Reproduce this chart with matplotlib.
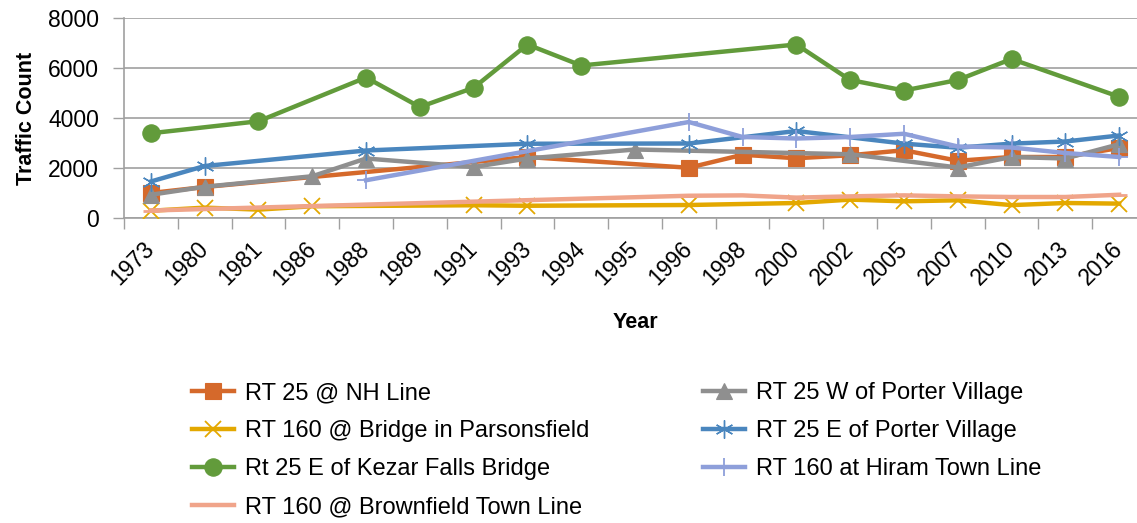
import numpy as np
import matplotlib
matplotlib.use("Agg")
import matplotlib.pyplot as plt

years = ["1973", "1980", "1981", "1986", "1988", "1989", "1991", "1993", "1994", "1995",
         "1996", "1998", "2000", "2002", "2005", "2007", "2010", "2013", "2016"]
N = None
nh_line =      [1000, 1240, N, N, N, N, N, 2440, N, N, 2010, 2530, 2390, 2510, 2710, 2290, 2440, 2440, 2800]
w_porter =     [930, 1250, N, 1670, 2380, N, 2040, 2380, N, 2740, N, N, N, 2550, N, 2020, 2440, 2380, 2950]
parsonsfield = [290, 415, 335, 470, N, N, 510, 490, N, N, 520, N, 600, 735, 668, 708, 515, 600, 575]
e_porter =     [1460, 2080, N, N, 2700, N, N, 2970, N, N, 2980, N, 3480, N, 2975, 2810, 2975, 3060, 3300]
kezar =        [3390, N, 3870, N, 5620, 4440, 5210, 6940, 6100, N, N, N, 6940, 5520, 5100, 5520, 6360, N, 4850]
hiram =        [N, N, N, N, 1510, N, N, N, N, N, 3840, 3240, 3180, 3240, 3370, 2860, 2820, 2600, 2440]
brownfield =   [300, N, N, N, N, N, N, N, N, N, 890, 905, 815, 865, 905, 865, 840, 840, 930]

series = [
    ("RT 25 @ NH Line", nh_line, "#D5692B", "s", 11, 1.0),
    ("RT 160 @ Bridge in Parsonsfield", parsonsfield, "#E3A800", "x", 12, 1.3),
    ("Rt 25 E of Kezar Falls Bridge", kezar, "#629B3B", "o", 12.5, 1.0),
    ("RT 160 @ Brownfield Town Line", brownfield, "#F0A48A", "_", 11, 2.0),
    ("RT 25 W of Porter Village", w_porter, "#8F8F8F", "^", 12, 1.0),
    ("RT 25 E of Porter Village", e_porter, "#4A86BE", "*", 13, 1.0),
    ("RT 160 at Hiram Town Line", hiram, "#8E9FDA", "+", 13, 1.3),
]

fig = plt.figure(figsize=(11.37, 5.23), dpi=100)
ax = fig.add_axes([124 / 1137, 1 - 218 / 523, (1146 - 124) / 1137, 200 / 523])

x_all = np.arange(len(years))
handles = []
for label, vals, color, mk, ms, mew in series:
    xs = [i for i, v in enumerate(vals) if v is not None]
    ys = [v for v in vals if v is not None]
    marker = (6, 2, 0) if mk == "*" else mk
    filled = mk in ("s", "o", "^")
    (h,) = ax.plot(xs, ys, color=color, lw=3.2, marker=marker, ms=ms,
                   markeredgewidth=mew if not filled else 0.8,
                   markerfacecolor=color, markeredgecolor=color,
                   solid_joinstyle="round", label=label, zorder=3)
    handles.append(h)

ax.set_xlim(-0.5, len(years) - 0.5)
ax.set_ylim(0, 8000)
ax.set_yticks([0, 2000, 4000, 6000, 8000])
ax.set_xticks(x_all)
ax.set_xticklabels(years, rotation=45, ha="right", va="center", rotation_mode="anchor",
                   fontsize=16.5, family="Liberation Sans")
ax.set_xticks(np.arange(-0.5, len(years), 1), minor=True)
ax.tick_params(axis="x", which="major", length=0, pad=20)
ax.tick_params(axis="x", which="minor", length=8, color="#A0A0A0", width=1)
ax.tick_params(axis="y", length=8, color="#A0A0A0", width=1, labelsize=16.5, pad=10)
for lbl in ax.get_yticklabels():
    lbl.set_family("Liberation Sans")
ax.grid(axis="y", color="#A0A0A0", lw=1.2, zorder=0)
ax.set_axisbelow(True)
for s in ["top", "right"]:
    ax.spines[s].set_visible(False)
for s in ["left", "bottom"]:
    ax.spines[s].set_color("#A0A0A0")
    ax.spines[s].set_linewidth(1.2)

fig.text(635 / 1137, 1 - 323 / 523, "Year", ha="center", va="center",
         fontsize=15.5, fontweight="bold", family="Liberation Sans")
fig.text(27 / 1137, 1 - 118 / 523, "Traffic Count", ha="center", va="center",
         rotation=90, fontsize=15.5, fontweight="bold", family="Liberation Sans")

leg = fig.legend(handles=handles, loc="upper left", bbox_to_anchor=(171 / 1137, 1 - 361 / 523),
                 ncol=2, frameon=False, numpoints=1, handlelength=1.78, handletextpad=0.47,
                 columnspacing=4.78, labelspacing=0.68,
                 prop={"family": "Liberation Sans", "size": 17})

fig.savefig("out.png", dpi=100)
